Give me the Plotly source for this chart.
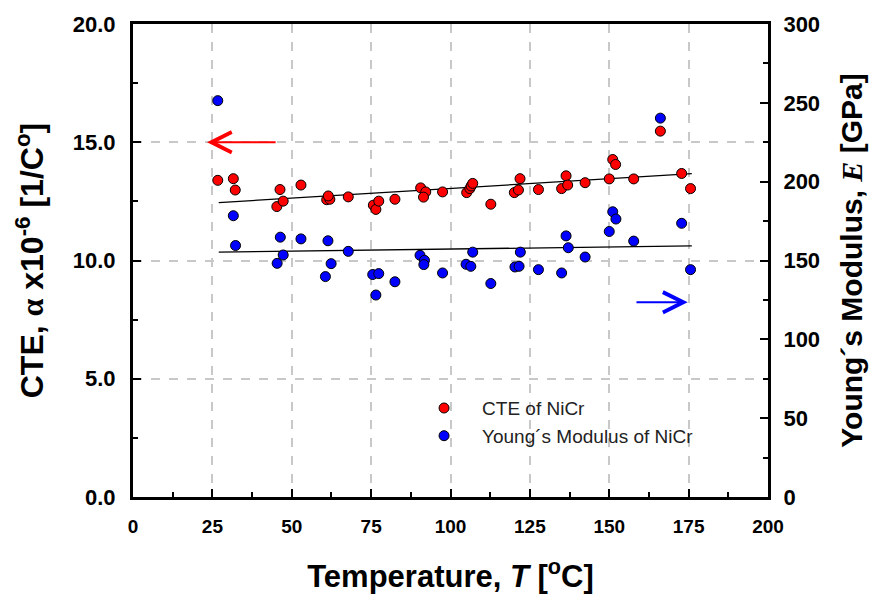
import plotly.graph_objects as go

# ---- data ----
cte_T = [26.7, 31.6, 32.2, 46.3, 45.3, 47.3, 52.9, 61.0, 62.0, 61.5, 67.8, 75.7, 76.5, 77.4,
         82.5, 90.6, 92.2, 91.5, 97.5, 105.1, 106.1, 106.5, 107.0, 112.7, 120.1, 121.4, 121.9,
         127.7, 135.0, 136.4, 136.9, 142.4, 150.0, 151.1, 152.0, 157.7, 166.1, 172.8, 175.6]
cte_val = [13.39, 13.46, 12.98, 13.00, 12.28, 12.51, 13.19, 12.57, 12.59, 12.73, 12.69, 12.34,
           12.16, 12.51, 12.59, 13.07, 12.90, 12.68, 12.90, 12.87, 13.04, 13.15, 13.26, 12.38,
           12.87, 12.98, 13.46, 13.00, 13.04, 13.58, 13.19, 13.29, 13.45, 14.27, 14.06, 13.45,
           15.47, 13.68, 13.04]

E_T = [26.7, 31.6, 32.3, 46.4, 47.3, 45.4, 52.9, 61.4, 62.4, 60.6, 67.8, 75.5, 77.4, 76.5,
       82.5, 90.4, 91.8, 91.6, 97.5, 104.9, 106.4, 107.0, 112.7, 120.3, 121.6, 122.0, 127.7,
       135.0, 136.4, 137.1, 142.4, 150.0, 151.1, 152.1, 157.7, 166.1, 172.8, 175.6]
E_val = [251.4, 178.4, 159.5, 164.8, 153.5, 148.2, 163.7, 162.5, 148.0, 139.8, 155.8, 141.1,
         141.7, 128.1, 136.5, 153.3, 150.1, 147.4, 142.1, 147.6, 146.3, 155.3, 135.4, 145.9,
         146.3, 155.3, 144.2, 142.1, 165.6, 158.1, 152.2, 168.4, 180.9, 176.3, 162.3, 240.3,
         173.6, 144.2]

fit_T = [27, 176]
cte_fit = [12.45, 13.67]
E_fit = [155.3, 159.3]

# arrows (data coordinates): tail x, tip x, level
red_arrow = dict(tail=45.4, tip=23.3, level=15.0)
blue_arrow = dict(tail=158.1, tip=174.7, level=123.5)

FONT = "Arial, 'Liberation Sans', sans-serif"
SERIF = "'Times New Roman', 'Liberation Serif', serif"

fig = go.Figure()

fig.add_trace(go.Scatter(x=fit_T, y=cte_fit, mode="lines", line=dict(color="black", width=1.3),
                         showlegend=False, hoverinfo="skip"))
fig.add_trace(go.Scatter(x=fit_T, y=E_fit, mode="lines", line=dict(color="black", width=1.3),
                         showlegend=False, hoverinfo="skip", yaxis="y2"))

fig.add_trace(go.Scatter(x=cte_T, y=cte_val, mode="markers", name="CTE of NiCr",
                         marker=dict(color="#ff0000", size=10, line=dict(color="black", width=1))))
fig.add_trace(go.Scatter(x=E_T, y=E_val, mode="markers", name="Young\u00b4s Modulus of NiCr",
                         yaxis="y2",
                         marker=dict(color="#0000ff", size=10, line=dict(color="black", width=1))))

fig.add_annotation(x=red_arrow["tip"], y=red_arrow["level"], ax=red_arrow["tail"], ay=red_arrow["level"],
                   xref="x", yref="y", axref="x", ayref="y", text="", showarrow=True,
                   arrowhead=5, arrowsize=2, arrowwidth=2, arrowcolor="#ff0000")
fig.add_annotation(x=blue_arrow["tip"], y=blue_arrow["level"], ax=blue_arrow["tail"], ay=blue_arrow["level"],
                   xref="x", yref="y2", axref="x", ayref="y2", text="", showarrow=True,
                   arrowhead=5, arrowsize=2, arrowwidth=2, arrowcolor="#0000ff")

grid = dict(showgrid=True, gridcolor="#c8c8c8", griddash="dash", gridwidth=1.5)

fig.update_layout(
    width=877, height=602,
    margin=dict(l=133, r=109, t=20, b=105),
    paper_bgcolor="white", plot_bgcolor="white",
    font=dict(family=FONT, color="black"),
    showlegend=True,
    legend=dict(x=0.43, y=0.228, xanchor="left", yanchor="top", bgcolor="rgba(0,0,0,0)",
                font=dict(family=FONT, size=19, color="#222222"),
                itemwidth=66, tracegroupgap=0),
    xaxis=dict(range=[0, 200], dtick=25, tick0=0, ticks="inside", ticklen=8, tickwidth=2,
               tickcolor="black", showline=True, linecolor="black", linewidth=3, mirror=True,
               zeroline=False, ticklabelstandoff=10,
               tickfont=dict(family=FONT, size=19, weight="bold"),
               minor=dict(ticks="inside", dtick=12.5, ticklen=5, tickwidth=1.5, tickcolor="black", showgrid=False),
               title=dict(text="Temperature, <i>T</i> [<sup>o</sup>C]",
                          font=dict(family=FONT, size=31, weight="bold"), standoff=30),
               **grid),
    yaxis=dict(range=[0, 20], dtick=5, tick0=0, tickformat=".1f", ticks="inside", ticklen=8,
               tickwidth=2, tickcolor="black", showline=True, linecolor="black", linewidth=3,
               zeroline=False, ticklabelstandoff=10,
               tickfont=dict(family=FONT, size=22, weight="bold"),
               minor=dict(ticks="inside", dtick=2.5, ticklen=5, tickwidth=1.5, tickcolor="black", showgrid=False),
               title=dict(text="CTE, <span style=\"font-family:" + SERIF + "\">\u03b1</span> x10<sup>-6</sup> [1/C<sup>o</sup>]",
                          font=dict(family=FONT, size=32, weight="bold"), standoff=20),
               **grid),
    yaxis2=dict(range=[0, 300], dtick=50, tick0=0, overlaying="y", side="right", ticks="inside",
                ticklen=8, tickwidth=2, tickcolor="black", showline=True, linecolor="black",
                linewidth=3, zeroline=False, showgrid=False, ticklabelstandoff=8,
                tickfont=dict(family=FONT, size=22, weight="bold"),
                minor=dict(ticks="inside", dtick=25, ticklen=5, tickwidth=1.5, tickcolor="black", showgrid=False),
                title=dict(text="Young\u00b4s Modulus, <span style=\"font-family:" + SERIF + "\"><i>E</i></span> [GPa]",
                           font=dict(family=FONT, size=30, weight="bold"), standoff=22)),
)

fig.write_html("out.html")
